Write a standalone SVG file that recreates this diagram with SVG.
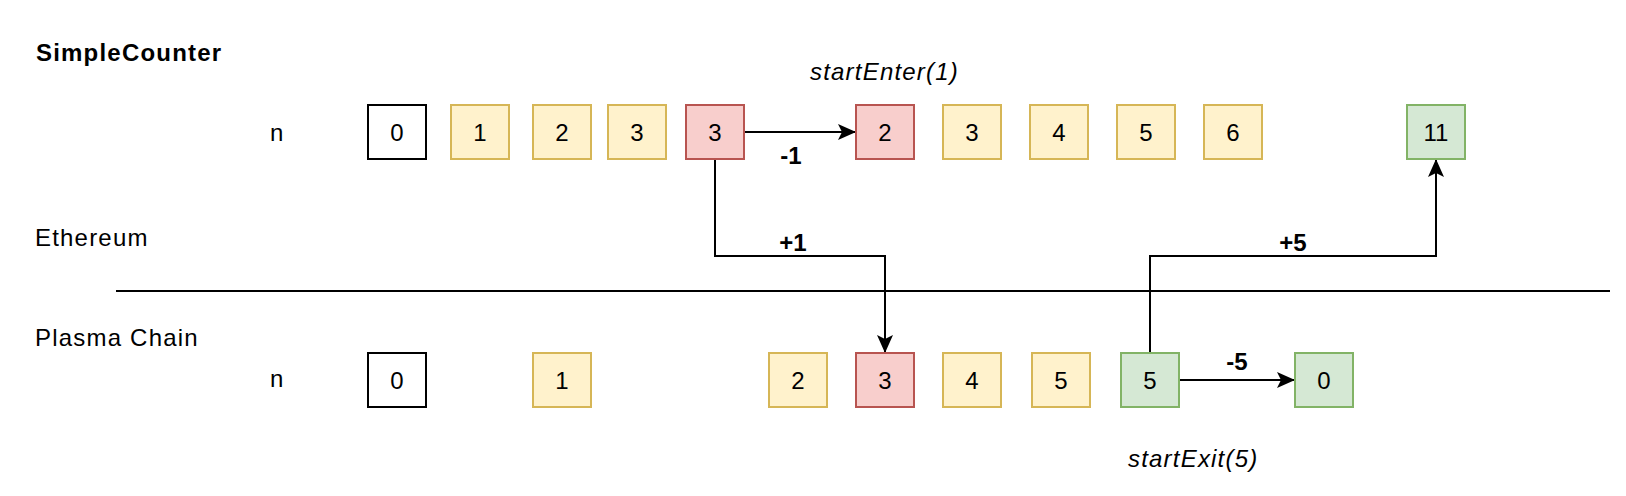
<svg xmlns="http://www.w3.org/2000/svg" width="1626" height="496" viewBox="0 0 1626 496">
<defs>
<style>
.t{font-family:"Liberation Sans",Arial,sans-serif;font-size:24px;fill:#000;letter-spacing:1.2px}
.b{font-weight:bold}
.i{font-style:italic}
.num{font-family:"Liberation Sans",Arial,sans-serif;font-size:24px;fill:#000;text-anchor:middle;dominant-baseline:central}
.lbl{font-family:"Liberation Sans",Arial,sans-serif;font-size:24px;font-weight:bold;fill:#000;text-anchor:middle;dominant-baseline:central}
.w{fill:#ffffff;stroke:#000000;stroke-width:2}
.y{fill:#fff2cc;stroke:#d6b656;stroke-width:2}
.r{fill:#f8cecc;stroke:#b85450;stroke-width:2}
.g{fill:#d5e8d4;stroke:#82b366;stroke-width:2}
.c{fill:none;stroke:#000;stroke-width:2}
</style>
<marker id="ah" markerUnits="userSpaceOnUse" markerWidth="20" markerHeight="18" refX="19" refY="9" orient="auto">
<path d="M1,1 L19,9 L1,17 L5,9 Z" fill="#000"/>
</marker>
</defs>
<rect width="1626" height="496" fill="#ffffff"/>

<g id="labels">
<text class="t b" x="36" y="61">SimpleCounter</text>
<text class="t" x="35" y="246">Ethereum</text>
<text class="t" x="35" y="346">Plasma Chain</text>
<text class="t" x="270" y="141">n</text>
<text class="t" x="270" y="387">n</text>
<text class="t i" x="810" y="80">startEnter(1)</text>
<text class="t i" x="1128" y="467">startExit(5)</text>
</g>

<line x1="116" y1="291" x2="1610" y2="291" stroke="#000" stroke-width="2"/>

<g id="connectors">
<line class="c" x1="744" y1="132" x2="856" y2="132" marker-end="url(#ah)"/>
<polyline class="c" points="715,159 715,256 885,256 885,353" marker-end="url(#ah)"/>
<polyline class="c" points="1150,353 1150,256 1436,256 1436,159" marker-end="url(#ah)"/>
<line class="c" x1="1179" y1="380" x2="1295" y2="380" marker-end="url(#ah)"/>
<text class="lbl" x="791" y="155">-1</text>
<text class="lbl" x="793" y="242">+1</text>
<text class="lbl" x="1293" y="242">+5</text>
<text class="lbl" x="1237" y="361">-5</text>
</g>

<g id="e0"><rect class="w" x="368" y="105" width="58" height="54"/><text class="num" x="397" y="132">0</text></g>
<g id="e1"><rect class="y" x="451" y="105" width="58" height="54"/><text class="num" x="480" y="132">1</text></g>
<g id="e2"><rect class="y" x="533" y="105" width="58" height="54"/><text class="num" x="562" y="132">2</text></g>
<g id="e3"><rect class="y" x="608" y="105" width="58" height="54"/><text class="num" x="637" y="132">3</text></g>
<g id="e3r"><rect class="r" x="686" y="105" width="58" height="54"/><text class="num" x="715" y="132">3</text></g>
<g id="e2r"><rect class="r" x="856" y="105" width="58" height="54"/><text class="num" x="885" y="132">2</text></g>
<g id="e3b"><rect class="y" x="943" y="105" width="58" height="54"/><text class="num" x="972" y="132">3</text></g>
<g id="e4"><rect class="y" x="1030" y="105" width="58" height="54"/><text class="num" x="1059" y="132">4</text></g>
<g id="e5"><rect class="y" x="1117" y="105" width="58" height="54"/><text class="num" x="1146" y="132">5</text></g>
<g id="e6"><rect class="y" x="1204" y="105" width="58" height="54"/><text class="num" x="1233" y="132">6</text></g>
<g id="e11"><rect class="g" x="1407" y="105" width="58" height="54"/><text class="num" x="1436" y="132">11</text></g>

<g id="p0"><rect class="w" x="368" y="353" width="58" height="54"/><text class="num" x="397" y="380">0</text></g>
<g id="p1"><rect class="y" x="533" y="353" width="58" height="54"/><text class="num" x="562" y="380">1</text></g>
<g id="p2"><rect class="y" x="769" y="353" width="58" height="54"/><text class="num" x="798" y="380">2</text></g>
<g id="p3r"><rect class="r" x="856" y="353" width="58" height="54"/><text class="num" x="885" y="380">3</text></g>
<g id="p4"><rect class="y" x="943" y="353" width="58" height="54"/><text class="num" x="972" y="380">4</text></g>
<g id="p5"><rect class="y" x="1032" y="353" width="58" height="54"/><text class="num" x="1061" y="380">5</text></g>
<g id="p5g"><rect class="g" x="1121" y="353" width="58" height="54"/><text class="num" x="1150" y="380">5</text></g>
<g id="p0g"><rect class="g" x="1295" y="353" width="58" height="54"/><text class="num" x="1324" y="380">0</text></g>
</svg>
